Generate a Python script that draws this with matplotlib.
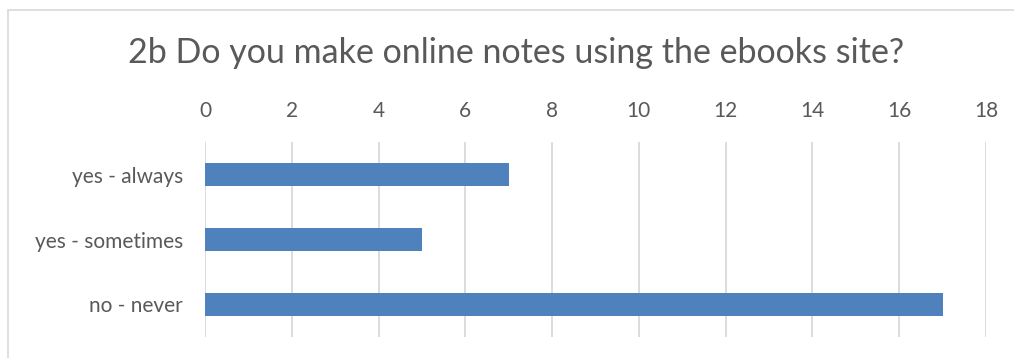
import matplotlib
matplotlib.use("Agg")
import matplotlib.pyplot as plt
from matplotlib.patches import Rectangle

plt.rcParams["font.family"] = ["Lato", "DejaVu Sans"]

# ── Data ──────────────────────────────────────────────────────────────────────
categories = ["yes - always", "yes - sometimes", "no - never"]
counts = [7, 5, 17]
xticks = list(range(0, 19, 2))

BAR = "#4F81BD"
GRID = "#D9D9D9"
TXT = "#595959"

fig = plt.figure(figsize=(10.14, 3.58), dpi=100)
fig.patch.set_facecolor("white")

# chart border (only top and left edges fall inside the picture)
fig.patches.append(Rectangle((7.5 / 1014, -10 / 358), 1030 / 1014, 358 / 358,
                             transform=fig.transFigure, fill=False,
                             edgecolor=GRID, linewidth=1.2))

ax = fig.add_axes([205 / 1014, 1 - 337 / 358, 781 / 1014, 195 / 358])
ypos = range(len(categories))
ax.barh(ypos, counts, height=0.34, color=BAR, zorder=3)

ax.set_xlim(0, 18)
ax.set_ylim(len(categories) - 0.5, -0.5)
ax.set_xticks(xticks)
ax.set_yticks(list(ypos))
ax.set_yticklabels(categories)
ax.xaxis.tick_top()
ax.tick_params(axis="both", length=0, labelsize=15, colors=TXT)
ax.tick_params(axis="x", pad=15)
ax.tick_params(axis="y", pad=16)
ax.grid(axis="x", color=GRID, linewidth=1.3, zorder=0)
for s in ax.spines.values():
    s.set_visible(False)

fig.text(0.509, 1 - 53 / 358, "2b Do you make online notes using the ebooks site?",
         ha="center", va="center", fontsize=24.5, color=TXT)

fig.savefig("out.png", dpi=100, facecolor="white")
